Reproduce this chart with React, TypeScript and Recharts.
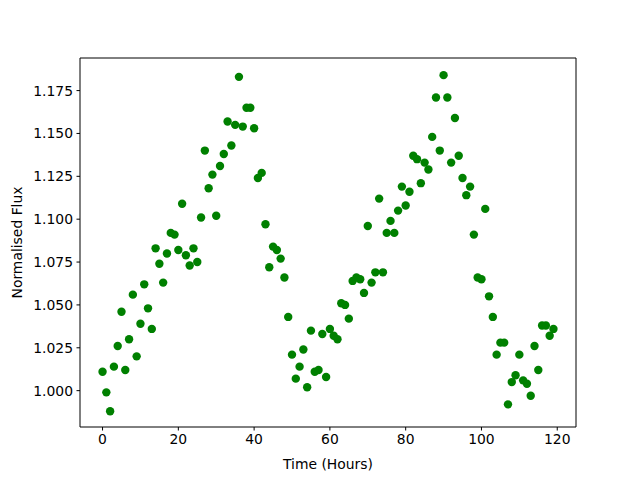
import {
  ScatterChart,
  Scatter,
  XAxis,
  YAxis,
  ReferenceLine,
} from "recharts";

const hours = Array.from({ length: 120 }, (_, i) => i);

const flux = [
  1.011, 0.999, 0.988, 1.014, 1.026, 1.046, 1.012, 1.03, 1.056, 1.02,
  1.039, 1.062, 1.048, 1.036, 1.083, 1.074, 1.063, 1.08, 1.092, 1.091,
  1.082, 1.109, 1.079, 1.073, 1.083, 1.075, 1.101, 1.14, 1.118, 1.126,
  1.102, 1.131, 1.138, 1.157, 1.143, 1.155, 1.183, 1.154, 1.165, 1.165,
  1.153, 1.124, 1.127, 1.097, 1.072, 1.084, 1.082, 1.077, 1.066, 1.043,
  1.021, 1.007, 1.014, 1.024, 1.002, 1.035, 1.011, 1.012, 1.033, 1.008,
  1.036, 1.032, 1.03, 1.051, 1.05, 1.042, 1.064, 1.066, 1.065, 1.057,
  1.096, 1.063, 1.069, 1.112, 1.069, 1.092, 1.099, 1.092, 1.105, 1.119,
  1.108, 1.116, 1.137, 1.135, 1.121, 1.133, 1.129, 1.148, 1.171, 1.14,
  1.184, 1.171, 1.133, 1.159, 1.137, 1.124, 1.114, 1.119, 1.091, 1.066,
  1.065, 1.106, 1.055, 1.043, 1.021, 1.028, 1.028, 0.992, 1.005, 1.009,
  1.021, 1.006, 1.004, 0.997, 1.026, 1.012, 1.038, 1.038, 1.032, 1.036,
];

const xTicks = [0, 20, 40, 60, 80, 100, 120];
const yTicks = [1.0, 1.025, 1.05, 1.075, 1.1, 1.125, 1.15, 1.175];

const X_MIN = -5.95;
const X_MAX = 124.95;
const Y_MIN = 0.9788;
const Y_MAX = 1.194;

const data = hours.map((h, i) => ({ t: h, f: flux[i] }));

const font = { fontFamily: "DejaVu Sans", fontSize: 13.9, fill: "#000" };

const Dot = (props: any) => (
  <circle cx={props.cx} cy={props.cy} r={4.2} fill="#008000" />
);

export default function App() {
  return (
    <div style={{ position: "absolute", left: 0, top: 0, background: "#fff" }}>
      <ScatterChart
        width={640}
        height={480}
        margin={{ top: 58, right: 64, bottom: 0, left: 0 }}
      >
        <XAxis
          type="number"
          dataKey="t"
          domain={[X_MIN, X_MAX]}
          allowDataOverflow
          ticks={xTicks}
          height={53}
          tickSize={3.5}
          tickMargin={3.5}
          tick={font}
          stroke="#000"
          tickLine={{ stroke: "#000" }}
          label={{
            value: "Time (Hours)",
            position: "insideBottom",
            offset: 11,
            style: font,
          }}
        />
        <YAxis
          type="number"
          dataKey="f"
          domain={[Y_MIN, Y_MAX]}
          allowDataOverflow
          ticks={yTicks}
          width={80}
          tickSize={3.5}
          tickMargin={3.5}
          tick={font}
          tickFormatter={(v: number) => v.toFixed(3)}
          stroke="#000"
          tickLine={{ stroke: "#000" }}
          label={{
            value: "Normalised Flux",
            angle: -90,
            position: "insideLeft",
            offset: 17,
            style: { ...font, textAnchor: "middle" },
          }}
        />
        <ReferenceLine y={Y_MAX} stroke="#000" strokeWidth={1} />
        <ReferenceLine x={X_MAX} stroke="#000" strokeWidth={1} />
        <Scatter data={data} shape={Dot} isAnimationActive={false} />
      </ScatterChart>
    </div>
  );
}
